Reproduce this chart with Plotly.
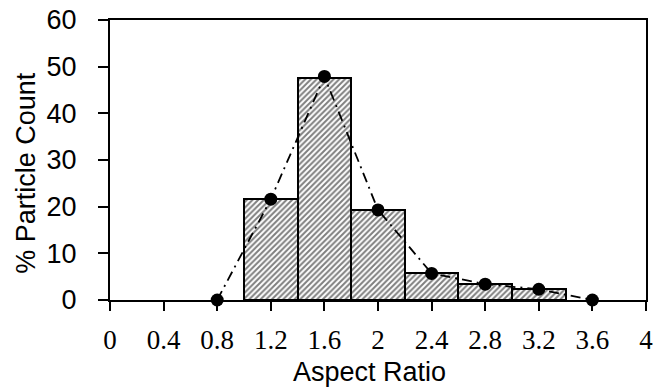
import plotly.graph_objects as go

bar_x = [1.2, 1.6, 2.0, 2.4, 2.8, 3.2]
bar_y = [21.6, 47.6, 19.3, 5.7, 3.5, 2.3]
line_x = [0.8, 1.2, 1.6, 2.0, 2.4, 2.8, 3.2, 3.6]
line_y = [0, 21.6, 47.9, 19.3, 5.7, 3.4, 2.3, 0]
x_ticks = [0, 0.4, 0.8, 1.2, 1.6, 2, 2.4, 2.8, 3.2, 3.6, 4]
x_ticklabels = ["0", "0.4", "0.8", "1.2", "1.6", "2", "2.4", "2.8", "3.2", "3.6", "4"]
y_ticks = [0, 10, 20, 30, 40, 50, 60]
x_title = "Aspect Ratio"
y_title = "% Particle Count"

SANS = "Liberation Sans, Arial, sans-serif"
SERIF = "Liberation Serif, Times New Roman, serif"

fig = go.Figure()
fig.add_trace(go.Bar(
    x=bar_x, y=bar_y, width=0.4,
    marker=dict(color="white", line=dict(color="black", width=2),
                pattern=dict(shape="/", fgcolor="black", bgcolor="white", size=4, solidity=0.5)),
    showlegend=False,
))
fig.add_trace(go.Scatter(
    x=line_x, y=line_y, mode="lines+markers",
    line=dict(color="black", width=1.8, dash="10px,5px,2px,5px"),
    marker=dict(color="black", size=13),
    showlegend=False, cliponaxis=False,
))
fig.update_layout(
    width=656, height=389,
    margin=dict(l=110, r=10, t=20, b=89),
    plot_bgcolor="white", paper_bgcolor="white",
    bargap=0,
    annotations=[
        dict(text=x_title, xref="paper", yref="paper", x=0.485, y=-0.257,
             xanchor="center", yanchor="middle", showarrow=False,
             font=dict(family=SANS, size=27, color="black")),
        dict(text=y_title, xref="paper", yref="paper", x=-0.157, y=0.4536,
             xanchor="center", yanchor="middle", showarrow=False, textangle=-90,
             font=dict(family=SANS, size=27, color="black")),
    ],
)
fig.update_xaxes(
    range=[0, 4], tickvals=x_ticks, ticktext=x_ticklabels, automargin=False,
    showline=True, linecolor="black", linewidth=2, mirror=True,
    ticks="outside", ticklen=9, tickwidth=2, tickcolor="black",
    showgrid=False, zeroline=False, ticklabelstandoff=6,
    tickfont=dict(family=SERIF, size=27, color="black"),
)
fig.update_yaxes(
    range=[0, 60], tickvals=y_ticks, automargin=False,
    showline=True, linecolor="black", linewidth=2, mirror=True,
    ticks="outside", ticklen=10, tickwidth=2, tickcolor="black",
    showgrid=False, zeroline=False, ticklabelstandoff=16,
    tickfont=dict(family=SANS, size=27, color="black"),
)
fig.write_html("out.html")
